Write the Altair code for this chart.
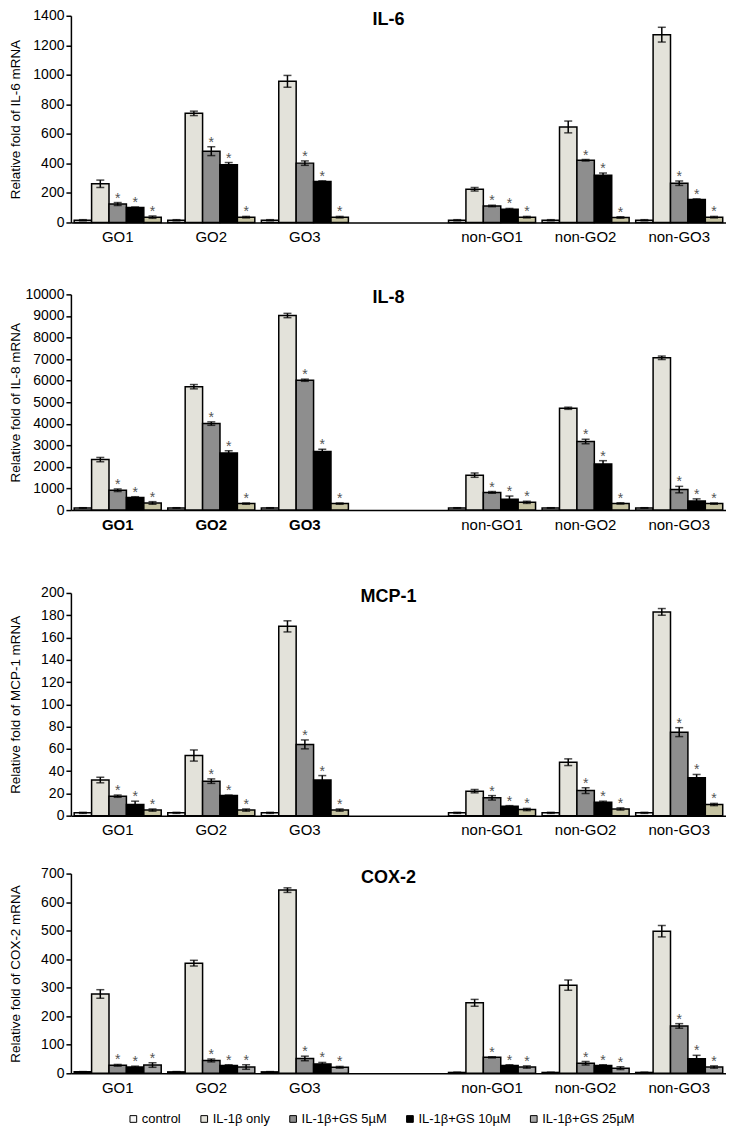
import altair as alt
import pandas as pd

groups = ["GO1", "GO2", "GO3", "non-GO1", "non-GO2", "non-GO3"]
x_domain = ["GO1", "GO2", "GO3", " ", "non-GO1", "non-GO2", "non-GO3"]
series = ["control", "IL-1β only", "IL-1β+GS 5µM", "IL-1β+GS 10µM", "IL-1β+GS 25µM"]
star_series = ["IL-1β+GS 5µM", "IL-1β+GS 10µM", "IL-1β+GS 25µM"]

# IL-6
il6_control = [15, 15, 15, 15, 15, 15]
il6_il1b = [262, 739, 956, 225, 647, 1272]
il6_gs5 = [125, 483, 402, 112, 421, 266]
il6_gs10 = [101, 391, 277, 90, 320, 155]
il6_gs25 = [36, 36, 36, 36, 34, 36]
il6_control_err = [4, 4, 4, 4, 4, 4]
il6_il1b_err = [25, 15, 40, 12, 40, 50]
il6_gs5_err = [10, 30, 15, 5, 5, 15]
il6_gs10_err = [4, 15, 5, 5, 15, 5]
il6_gs25_err = [8, 5, 5, 5, 5, 5]

# IL-8
il8_control = [100, 100, 100, 100, 100, 100]
il8_il1b = [2340, 5720, 9020, 1620, 4720, 7060]
il8_gs5 = [920, 4010, 6020, 820, 3180, 950]
il8_gs10 = [580, 2650, 2720, 500, 2140, 420]
il8_gs25 = [330, 300, 300, 360, 310, 300]
il8_control_err = [10, 10, 10, 10, 10, 10]
il8_il1b_err = [100, 100, 100, 100, 50, 80]
il8_gs5_err = [60, 80, 50, 40, 100, 150]
il8_gs10_err = [40, 100, 100, 150, 150, 100]
il8_gs25_err = [60, 30, 30, 50, 30, 30]

# MCP-1
mcp_control = [2.5, 2.5, 2.5, 2.5, 2.5, 2.5]
mcp_il1b = [32, 54, 170, 22, 48, 183]
mcp_gs5 = [17.5, 31, 64, 16, 22.5, 75]
mcp_gs10 = [10, 18, 32, 8.5, 12, 34]
mcp_gs25 = [5, 5, 5, 5.5, 6, 10]
mcp_control_err = [0.5, 0.5, 0.5, 0.5, 0.5, 0.5]
mcp_il1b_err = [2.5, 5, 5, 1.5, 3, 3]
mcp_gs5_err = [1, 2, 4, 2, 2.5, 4]
mcp_gs10_err = [3, 0.5, 4, 0.5, 1, 3]
mcp_gs25_err = [1, 1, 1, 1, 1, 1]

# COX-2
cox_control = [5, 5, 5, 3, 3, 3]
cox_il1b = [278, 386, 642, 247, 309, 498]
cox_gs5 = [28, 45, 52, 56, 35, 166]
cox_gs10 = [22, 27, 33, 27, 27, 51]
cox_gs25 = [29, 22, 21, 22, 18, 22]
cox_control_err = [1, 1, 1, 1, 1, 1]
cox_il1b_err = [15, 10, 8, 12, 18, 20]
cox_gs5_err = [3, 5, 8, 2, 6, 8]
cox_gs10_err = [3, 3, 5, 3, 3, 12]
cox_gs25_err = [8, 8, 3, 4, 5, 4]

colors_main = ["#f7f7f7", "#e3e2da", "#8e8e8e", "#000000", "#c6c3a2"]
colors_cox = ["#f7f7f7", "#e3e2da", "#8e8e8e", "#000000", "#a8a8a8"]

FONT = "Liberation Sans"


def make_df(vals, errs):
    rows = []
    for s, v_list, e_list in zip(series, vals, errs):
        for g, v, e in zip(groups, v_list, e_list):
            rows.append({"group": g, "series": s, "value": v,
                         "lo": v - e, "hi": v + e,
                         "star": s in star_series})
    return pd.DataFrame(rows)


def panel(name, ytitle, vals, errs, ymax, ystep, colors, height,
          show_legend=False, bold_go=False):
    df = make_df(vals, errs)
    base = alt.Chart(df)
    if bold_go:
        lfw = {"condition": {"test": "indexof(datum.value, 'non') < 0", "value": "bold"},
               "value": "normal"}
    else:
        lfw = "normal"
    x = alt.X("group:N",
              scale=alt.Scale(domain=x_domain, paddingInner=0.07, paddingOuter=0.035),
              axis=alt.Axis(title=None, ticks=False, labelFontSize=15, labelPadding=7,
                            labelAngle=0, labelColor="black", domainColor="black",
                            domainWidth=1.5, labelFontWeight=lfw))
    xo = alt.XOffset("series:N", scale=alt.Scale(domain=series, paddingInner=0, paddingOuter=0))
    yscale = alt.Scale(domain=[0, ymax], nice=False)
    yaxis = alt.Axis(values=list(range(0, ymax + 1, ystep)), format="d", title=ytitle,
                     titleFontSize=13.5, titleFontWeight="normal", titleColor="black",
                     titleX=-48, labelFontSize=14, labelColor="black", labelPadding=2,
                     tickColor="black", tickSize=5, tickWidth=1.5, domainColor="black",
                     domainWidth=1.5, grid=False)

    def yenc(field):
        return alt.Y(f"{field}:Q", scale=yscale, axis=yaxis, title=ytitle)

    legend = None
    if show_legend:
        legend = alt.Legend(orient="none", legendX=56, legendY=239, direction="horizontal",
                            title=None, symbolType="square", symbolSize=45,
                            symbolStrokeColor="black", symbolStrokeWidth=1,
                            labelFontSize=13, labelColor="black", labelOffset=2,
                            columnPadding=16)
    bars = base.mark_bar(stroke="black", strokeWidth=1.5).encode(
        x=x, xOffset=xo, y=yenc("value"),
        fill=alt.Fill("series:N", scale=alt.Scale(domain=series, range=colors), legend=legend),
    )
    rule = base.mark_rule(color="black", strokeWidth=1.5).encode(
        x=x, xOffset=xo, y=yenc("lo"), y2="hi:Q")
    cap_lo = base.mark_tick(color="black", thickness=1.5, size=8).encode(
        x=x, xOffset=xo, y=yenc("lo"))
    cap_hi = base.mark_tick(color="black", thickness=1.5, size=8).encode(
        x=x, xOffset=xo, y=yenc("hi"))
    stars = base.transform_filter("datum.star").mark_text(
        text="*", fontSize=14, color="#555555", baseline="bottom", dy=3).encode(
        x=x, xOffset=xo, y=yenc("hi"))
    return alt.layer(bars, rule, cap_lo, cap_hi, stars).properties(
        width=656, height=height,
        title=alt.TitleParams(text=name, fontSize=18, fontWeight="bold", anchor="middle",
                              frame="group", offset=-20, dx=-10, color="black", font=FONT),
    )


p1 = panel("IL-6", "Relative fold of IL-6 mRNA",
           [il6_control, il6_il1b, il6_gs5, il6_gs10, il6_gs25],
           [il6_control_err, il6_il1b_err, il6_gs5_err, il6_gs10_err, il6_gs25_err],
           1400, 200, colors_main, 207)
p2 = panel("IL-8", "Relative fold of IL-8 mRNA",
           [il8_control, il8_il1b, il8_gs5, il8_gs10, il8_gs25],
           [il8_control_err, il8_il1b_err, il8_gs5_err, il8_gs10_err, il8_gs25_err],
           10000, 1000, colors_main, 216, bold_go=True)
p3 = panel("MCP-1", "Relative fold of MCP-1 mRNA",
           [mcp_control, mcp_il1b, mcp_gs5, mcp_gs10, mcp_gs25],
           [mcp_control_err, mcp_il1b_err, mcp_gs5_err, mcp_gs10_err, mcp_gs25_err],
           200, 20, colors_main, 223)
p4 = panel("COX-2", "Relative fold of COX-2 mRNA",
           [cox_control, cox_il1b, cox_gs5, cox_gs10, cox_gs25],
           [cox_control_err, cox_il1b_err, cox_gs5_err, cox_gs10_err, cox_gs25_err],
           700, 100, colors_cox, 200, show_legend=True)

top = alt.vconcat(p1, p2, spacing=43).resolve_scale(fill="independent")
bottom = alt.vconcat(p3, p4, spacing=29).resolve_scale(fill="independent")
chart = alt.vconcat(top, bottom, spacing=54).resolve_scale(fill="independent").configure(
    font=FONT, padding=0
).configure_view(stroke=None)

chart.save("out.html", embed_options={"renderer": "svg", "actions": False})
